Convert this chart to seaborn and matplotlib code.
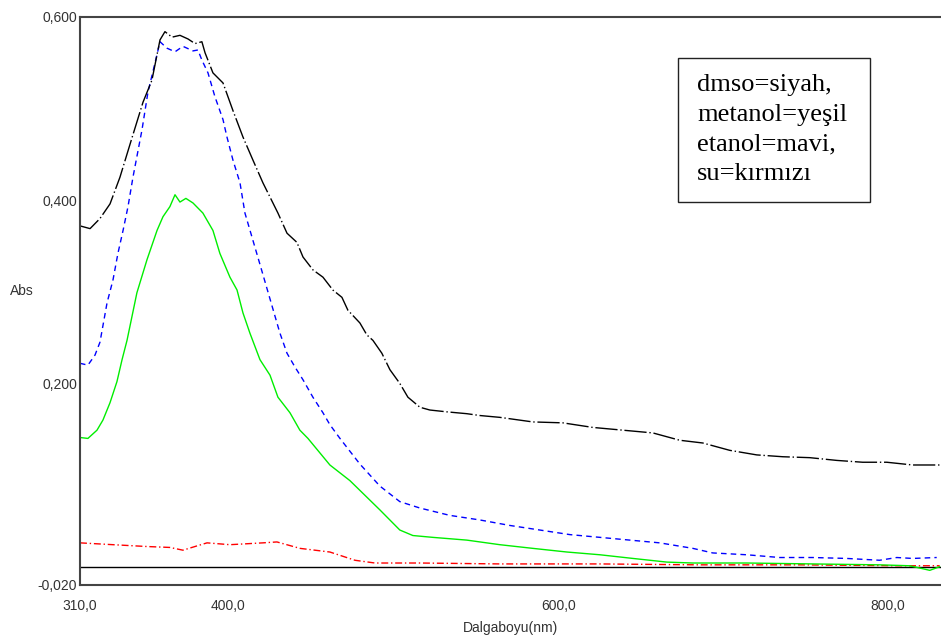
import matplotlib
matplotlib.use("Agg")
import matplotlib.pyplot as plt
from matplotlib.patches import Rectangle
import seaborn as sns
import pandas as pd

# ---- data ----
dmso_wl = [310.0, 316.1, 322.1, 328.2, 334.2, 341.5, 348.2, 353.6, 358.5, 361.5, 365.8, 370.6,
           375.5, 379.7, 383.9, 385.8, 390.6, 396.7, 402.7, 408.8, 414.8, 420.9, 430.0, 435.5,
           441.5, 445.2, 451.2, 457.3, 463.3, 468.8, 472.4, 479.7, 483.9, 487.6, 493.0, 497.9,
           503.9, 508.8, 516.1, 522.1, 532.4, 544.5, 552.4, 564.5, 584.5, 602.7, 620.9, 639.1,
           657.3, 673.6, 687.6, 703.9, 720.3, 736.1, 752.4, 768.8, 784.5, 799.1, 814.8, 831.2]
dmso_abs = [0.372, 0.369, 0.380, 0.396, 0.425, 0.468, 0.507, 0.531, 0.575, 0.584, 0.578, 0.580,
            0.576, 0.571, 0.573, 0.561, 0.539, 0.528, 0.498, 0.469, 0.444, 0.419, 0.386, 0.364,
            0.354, 0.338, 0.324, 0.316, 0.302, 0.294, 0.280, 0.266, 0.253, 0.247, 0.233, 0.215,
            0.200, 0.185, 0.174, 0.171, 0.169, 0.167, 0.165, 0.163, 0.158, 0.157, 0.152, 0.149,
            0.146, 0.138, 0.135, 0.127, 0.122, 0.120, 0.119, 0.116, 0.114, 0.114, 0.111, 0.111]

etanol_wl = [310.0, 314.8, 319.1, 322.1, 326.4, 330.0, 333.0, 336.1, 339.1, 342.1, 347.6, 351.2,
             355.5, 358.5, 362.7, 367.6, 372.4, 378.5, 381.5, 383.9, 387.6, 391.8, 396.7, 399.1,
             402.7, 407.0, 410.0, 419.1, 431.2, 435.5, 440.3, 445.2, 451.2, 457.3, 461.5, 467.6,
             479.7, 491.8, 503.9, 516.1, 534.2, 552.4, 570.6, 588.8, 607.0, 625.2, 643.3, 661.5,
             681.5, 693.6, 714.2, 734.2, 754.2, 774.8, 794.8, 805.2, 814.8, 829.4]
etanol_abs = [0.222, 0.220, 0.231, 0.245, 0.288, 0.313, 0.342, 0.367, 0.393, 0.425, 0.477, 0.518,
              0.550, 0.573, 0.566, 0.562, 0.568, 0.563, 0.564, 0.553, 0.539, 0.513, 0.488, 0.469,
              0.444, 0.419, 0.386, 0.330, 0.255, 0.233, 0.218, 0.204, 0.185, 0.168, 0.155, 0.140,
              0.112, 0.088, 0.071, 0.064, 0.056, 0.051, 0.045, 0.040, 0.035, 0.032, 0.029, 0.026,
              0.020, 0.015, 0.013, 0.010, 0.010, 0.009, 0.007, 0.010, 0.009, 0.010]

metanol_wl = [310.0, 314.8, 320.3, 323.9, 328.2, 332.4, 335.5, 338.5, 344.5, 350.6, 356.7, 360.3,
              364.5, 367.6, 370.6, 374.2, 378.5, 384.5, 390.6, 394.8, 400.9, 405.2, 408.8, 413.0,
              419.1, 425.2, 430.0, 437.3, 443.3, 448.2, 461.5, 473.6, 491.8, 503.9, 511.8, 523.9,
              544.5, 564.5, 584.5, 605.2, 625.2, 645.2, 665.8, 681.5, 714.2, 754.2, 794.8, 813.0,
              825.2, 831.2]
metanol_abs = [0.141, 0.140, 0.149, 0.160, 0.179, 0.202, 0.226, 0.247, 0.299, 0.335, 0.367, 0.382,
               0.393, 0.406, 0.398, 0.402, 0.397, 0.386, 0.367, 0.342, 0.316, 0.302, 0.277, 0.255,
               0.226, 0.209, 0.185, 0.168, 0.149, 0.140, 0.111, 0.094, 0.062, 0.040, 0.034, 0.032,
               0.029, 0.024, 0.020, 0.016, 0.013, 0.009, 0.005, 0.004, 0.004, 0.003, 0.002, 0.001,
               -0.004, 0.000]

su_wl = [310.0, 330.0, 350.6, 364.5, 372.4, 387.0, 400.9, 420.9, 429.4, 443.3, 461.5, 476.7,
         488.8, 516.1, 564.5, 625.2, 685.8, 746.4, 807.0, 831.2]
su_abs = [0.026, 0.024, 0.022, 0.021, 0.018, 0.026, 0.024, 0.026, 0.027, 0.020, 0.016, 0.007,
          0.004, 0.004, 0.003, 0.003, 0.002, 0.002, 0.001, 0.001]

baseline_wl = [310.0, 832.0]
baseline_abs = [0.0, 0.0]

x_ticks = [310, 400, 600, 800]
x_ticklabels = ["310,0", "400,0", "600,0", "800,0"]
y_ticks = [-0.02, 0.2, 0.4, 0.6]
y_ticklabels = ["-0,020", "0,200", "0,400", "0,600"]

legend_text = "dmso=siyah,\nmetanol=yeşil\netanol=mavi,\nsu=kırmızı"

# ---- plot ----
sns.set_style("white")
plt.rcParams["font.family"] = ["Liberation Sans", "DejaVu Sans"]

fig = plt.figure(figsize=(9.41, 6.41), dpi=100)
ax = fig.add_axes([80 / 941, 1 - 585 / 641, 1 - 80 / 941, (585 - 17) / 641])

sns.lineplot(x=baseline_wl, y=baseline_abs, ax=ax, color="black", linewidth=1.0)
sns.lineplot(x=su_wl, y=su_abs, ax=ax, color="#ff0000", linewidth=1.0)
ax.lines[-1].set_dashes([5, 2, 1, 2])
sns.lineplot(x=metanol_wl, y=metanol_abs, ax=ax, color="#00ee00", linewidth=1.0)
sns.lineplot(x=etanol_wl, y=etanol_abs, ax=ax, color="#0000ff", linewidth=1.0)
ax.lines[-1].set_dashes([4, 3])
sns.lineplot(x=dmso_wl, y=dmso_abs, ax=ax, color="black", linewidth=1.0)
ax.lines[-1].set_dashes([16, 2, 1, 2])

ax.set_xlim(310, 832)
ax.set_ylim(-0.02, 0.6)

ax.set_xticks(x_ticks)
ax.set_xticklabels(x_ticklabels)
ax.set_yticks(y_ticks)
ax.set_yticklabels(y_ticklabels)
ax.tick_params(axis="both", direction="in", length=6, width=1, colors="#333333",
               labelsize=10, labelcolor="#333333")
ax.tick_params(axis="x", pad=10)
ax.tick_params(axis="y", pad=2)

for side in ["left", "bottom", "top"]:
    ax.spines[side].set_color("#444444")
    ax.spines[side].set_linewidth(1.5)
ax.spines["right"].set_visible(False)

ax.set_xlabel("Dalgaboyu(nm)", fontsize=10, color="#333333", labelpad=6)
ax.set_ylabel("Abs", fontsize=10, color="#333333", rotation=0, labelpad=0)
ax.yaxis.set_label_coords(-58 / 861, (585 - 298) / 568)

rect = Rectangle(((678 - 80) / 861, (585 - 202) / 568), 192 / 861, 144 / 568,
                 transform=ax.transAxes, facecolor="white", edgecolor="#222222",
                 linewidth=1.0, zorder=5)
ax.add_patch(rect)
ax.text((697 - 80) / 861, (585 - 74) / 568, legend_text, transform=ax.transAxes,
        ha="left", va="top", fontsize=19, family=["Liberation Serif", "DejaVu Serif"],
        color="black", linespacing=1.45, zorder=6)

fig.savefig("out.png", dpi=100)
